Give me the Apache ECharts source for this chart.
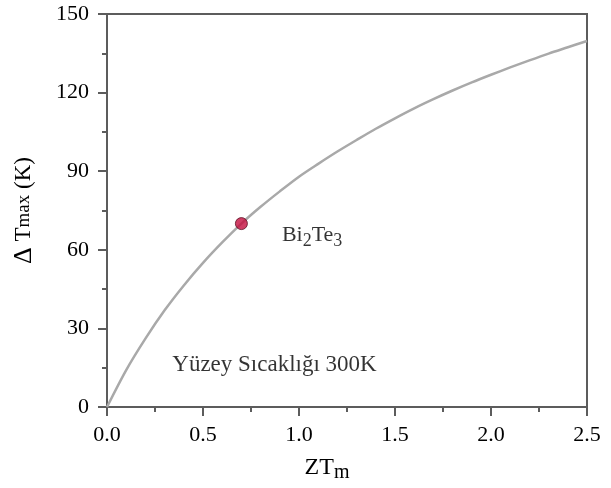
<!DOCTYPE html>
<html>
<head>
<meta charset="utf-8">
<script src="https://cdn.jsdelivr.net/npm/echarts@6/dist/echarts.min.js"></script>
<style>
html,body{margin:0;padding:0;background:#fff;}
#chart{width:611px;height:488px;}
</style>
</head>
<body>
<div id="chart"></div>
<script>
var zt = [0, 0.1, 0.2, 0.3, 0.4, 0.5, 0.6, 0.7, 0.8, 0.9, 1.0, 1.1, 1.2, 1.3, 1.4, 1.5, 1.6, 1.7, 1.8, 1.9, 2.0, 2.1, 2.2, 2.3, 2.4, 2.5];
var dTmax = [0, 14.1, 26.1, 36.9, 46.4, 55, 62.8, 70, 76.4, 82.3, 87.9, 92.8, 97.5, 101.9, 106.2, 110.2, 114, 117.5, 120.8, 123.9, 126.8, 129.6, 132.3, 134.9, 137.3, 139.7];
var pointZT = [0.7];
var pointDT = [70];
var xTicks = [0, 0.5, 1.0, 1.5, 2.0, 2.5];
var yTicks = [0, 30, 60, 90, 120, 150];

var font = '"Liberation Serif", "Times New Roman", serif';
var axisColor = '#5c5c5c';
var textColor = '#000';

var chart = echarts.init(document.getElementById('chart'));
chart.setOption({
  backgroundColor: '#fff',
  animation: false,
  grid: {left: 107, right: 24, top: 14, bottom: 81, show: true, borderColor: axisColor, borderWidth: 2, backgroundColor: 'transparent'},
  xAxis: {
    type: 'value', min: xTicks[0], max: xTicks[xTicks.length-1], interval: 0.5,
    name: 'ZT{sub|m}', nameLocation: 'middle', nameGap: 46,
    nameTextStyle: {fontFamily: font, fontSize: 24, color: textColor, padding: [0, 40, 0, 0],
      rich: {sub: {fontFamily: font, fontSize: 20, color: textColor, verticalAlign: 'bottom', padding: [10, 0, 0, 0]}}},
    axisLine: {show: true, lineStyle: {color: axisColor, width: 2}},
    axisTick: {show: true, inside: false, length: 9, lineStyle: {color: axisColor, width: 2}},
    minorTick: {show: true, splitNumber: 2, length: 5, lineStyle: {color: axisColor, width: 2}},
    splitLine: {show: false},
    axisLabel: {fontFamily: font, fontSize: 22, color: textColor, margin: 17,
      formatter: function (v) { return v.toFixed(1); }}
  },
  yAxis: {
    type: 'value', min: yTicks[0], max: yTicks[yTicks.length-1], interval: 30,
    name: '{d|Δ} T{s|max} (K)', nameLocation: 'middle', nameGap: 70, nameRotate: 90,
    nameTextStyle: {fontFamily: font, fontSize: 23, color: textColor,
      rich: {d: {fontFamily: font, fontSize: 26, color: textColor}, s: {fontFamily: font, fontSize: 19, color: textColor}}},
    axisLine: {show: true, lineStyle: {color: axisColor, width: 2}},
    axisTick: {show: true, inside: false, length: 9, lineStyle: {color: axisColor, width: 2}},
    minorTick: {show: true, splitNumber: 2, length: 5, lineStyle: {color: axisColor, width: 2}},
    splitLine: {show: false},
    axisLabel: {fontFamily: font, fontSize: 22, color: textColor, margin: 18}
  },
  series: [
    {
      type: 'line', smooth: 0.3, showSymbol: false,
      data: zt.map(function (x, i) { return [x, dTmax[i]]; }),
      lineStyle: {color: '#a9a9a9', width: 2.5},
      z: 2
    },
    {
      type: 'scatter', symbolSize: 12,
      data: pointZT.map(function (x, i) { return [x, pointDT[i]]; }),
      itemStyle: {color: '#c40e3e', borderColor: '#5a0f22', borderWidth: 1},
      label: {show: true, position: 'right', distance: 34, offset: [0, 12],
        formatter: 'Bi{sub|2}Te{sub|3}',
        fontFamily: font, fontSize: 22, color: textColor,
        rich: {sub: {fontFamily: font, fontSize: 18, color: textColor, padding: [12, 0, 0, 0]}}},
      z: 3
    },
    {
      type: 'scatter', symbolSize: 0, silent: true,
      data: [[0.34, 16]],
      label: {show: true, position: 'right', distance: 0, formatter: 'Yüzey Sıcaklığı 300K',
        fontFamily: font, fontSize: 23, color: textColor}
    }
  ]
});
</script>
</body>
</html>
